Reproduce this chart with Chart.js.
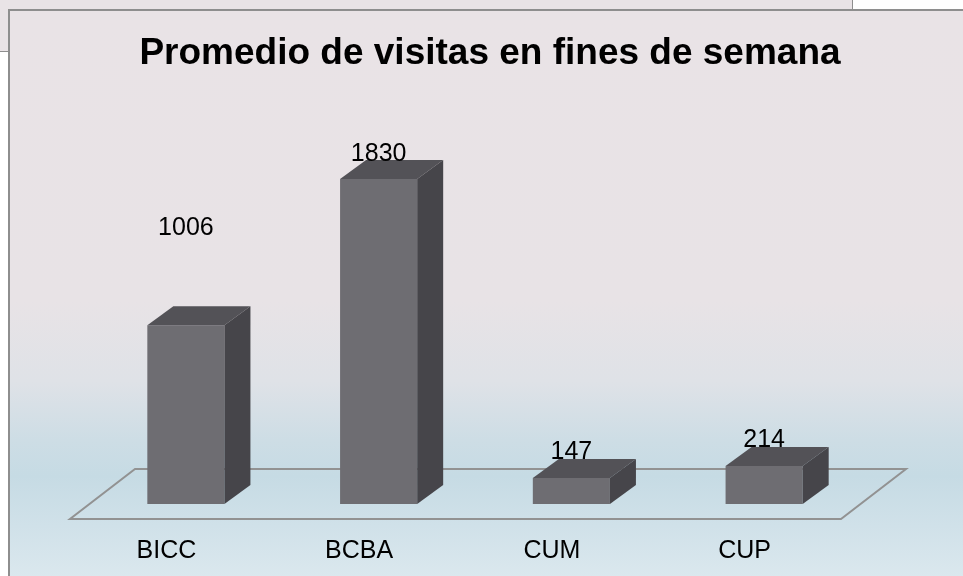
<!DOCTYPE html>
<html>
<head>
<meta charset="utf-8">
<title>Promedio de visitas en fines de semana</title>
<script src="https://cdn.jsdelivr.net/npm/chart.js@4.4.1/dist/chart.umd.min.js"></script>
<style>
  html, body { margin: 0; padding: 0; background: #fff; overflow: hidden; }
  * { box-sizing: border-box; }
  #back  { position: absolute; left: -20px; top: -20px; width: 873px; height: 72px;
           background: #e9e3e6; border: 1px solid #8e8e8e; }
  #frame { position: absolute; left: 8px; top: 9px; width: 1000px; height: 620px;
           border: 2px solid #8e8e8e;
           background: linear-gradient(to bottom,
             #e9e3e6 0px, #e8e3e6 290px, #dfe2e7 370px, #cddde5 430px,
             #c6dbe4 465px, #d0e1e9 515px, #dbe8ee 567px, #dde9ef 620px); }
  #wrap  { position: absolute; left: 0; top: 0; width: 963px; height: 576px; }
</style>
</head>
<body>
<div id="back"></div>
<div id="frame"></div>
<div id="wrap"><canvas id="chart" width="963" height="576"></canvas></div>
<script>
'use strict';

// ── Data ───────────────────────────────────────────────────────────────────
const categories = ['BICC', 'BCBA', 'CUM', 'CUP'];
const visits     = [1006, 1830, 147, 214];
const yMax       = 2000;

const FONT = '"Liberation Sans", Arial, sans-serif';

// ── 3D box look: floor, top/side faces, value labels ───────────────────────
const box3d = {
  id: 'box3d',
  beforeDatasetsDraw(chart, args, opts) {
    const { ctx, chartArea: a } = chart;
    const f = opts.floorFront, b = opts.floorBack;
    ctx.save();
    ctx.strokeStyle = opts.floorColor;
    ctx.lineWidth = 2;
    ctx.beginPath();
    ctx.moveTo(a.left + f.x,  a.bottom + f.y);
    ctx.lineTo(a.right + f.x, a.bottom + f.y);
    ctx.lineTo(a.right + b.x, a.bottom + b.y);
    ctx.lineTo(a.left + b.x,  a.bottom + b.y);
    ctx.closePath();
    ctx.stroke();
    ctx.restore();
  },
  afterDatasetsDraw(chart, args, opts) {
    const { ctx } = chart;
    const dx = opts.depthX, dy = opts.depthY;
    const meta = chart.getDatasetMeta(0);
    ctx.save();
    meta.data.forEach(bar => {
      const x0 = bar.x - bar.width / 2, x1 = bar.x + bar.width / 2;
      const yt = bar.y, yb = bar.base;

      // top face
      ctx.fillStyle = opts.topColor;
      ctx.beginPath();
      ctx.moveTo(x0, yt);
      ctx.lineTo(x0 + dx, yt - dy);
      ctx.lineTo(x1 + dx, yt - dy);
      ctx.lineTo(x1, yt);
      ctx.closePath();
      ctx.fill();

      // side face
      ctx.fillStyle = opts.sideColor;
      ctx.beginPath();
      ctx.moveTo(x1, yt);
      ctx.lineTo(x1 + dx, yt - dy);
      ctx.lineTo(x1 + dx, yb - dy);
      ctx.lineTo(x1, yb);
      ctx.closePath();
      ctx.fill();
    });

    ctx.fillStyle = '#000';
    ctx.font = `25px ${FONT}`;
    ctx.textAlign = 'center';
    ctx.textBaseline = 'alphabetic';
    meta.data.forEach((bar, i) => {
      ctx.fillText(String(visits[i]), bar.x, bar.y - opts.labelLift[i]);
    });
    ctx.restore();
  },
};

// ── Chart ──────────────────────────────────────────────────────────────────
new Chart(document.getElementById('chart'), {
  type: 'bar',
  data: {
    labels: categories,
    datasets: [{
      data: visits,
      backgroundColor: '#6e6d72',
      borderWidth: 0,
      barPercentage: 0.4,
      categoryPercentage: 1,
    }],
  },
  options: {
    responsive: false,
    animation: false,
    layout: { padding: { left: 89.5, right: 72.5, top: 0, bottom: 0 } },
    plugins: {
      legend: { display: false },
      tooltip: { enabled: false },
      title: {
        display: true,
        text: 'Promedio de visitas en fines de semana',
        color: '#000',
        font: { family: FONT, size: 37, weight: 'bold' },
        padding: { top: 32, bottom: 72.4 },
      },
      box3d: {
        depthX: 26, depthY: 19,
        floorFront: { x: -19.5, y: 15 },
        floorBack:  { x: 45.5,  y: -35 },
        floorColor: '#929292',
        topColor:  '#535257',
        sideColor: '#46454a',
        labelLift: [90, 18, 19, 19],
      },
    },
    scales: {
      x: {
        grid: { display: false, drawTicks: false },
        border: { display: false },
        ticks: { color: '#000', font: { family: FONT, size: 25 }, padding: 32, labelOffset: -19.5 },
        afterFit(s) { s.height = 72; },
      },
      y: {
        position: 'right',
        min: 0, max: yMax,
        grid: { display: false },
        border: { display: false },
        ticks: { display: false },
        afterFit(s) { s.width = 30; },
      },
    },
  },
  plugins: [box3d],
});
</script>
</body>
</html>
